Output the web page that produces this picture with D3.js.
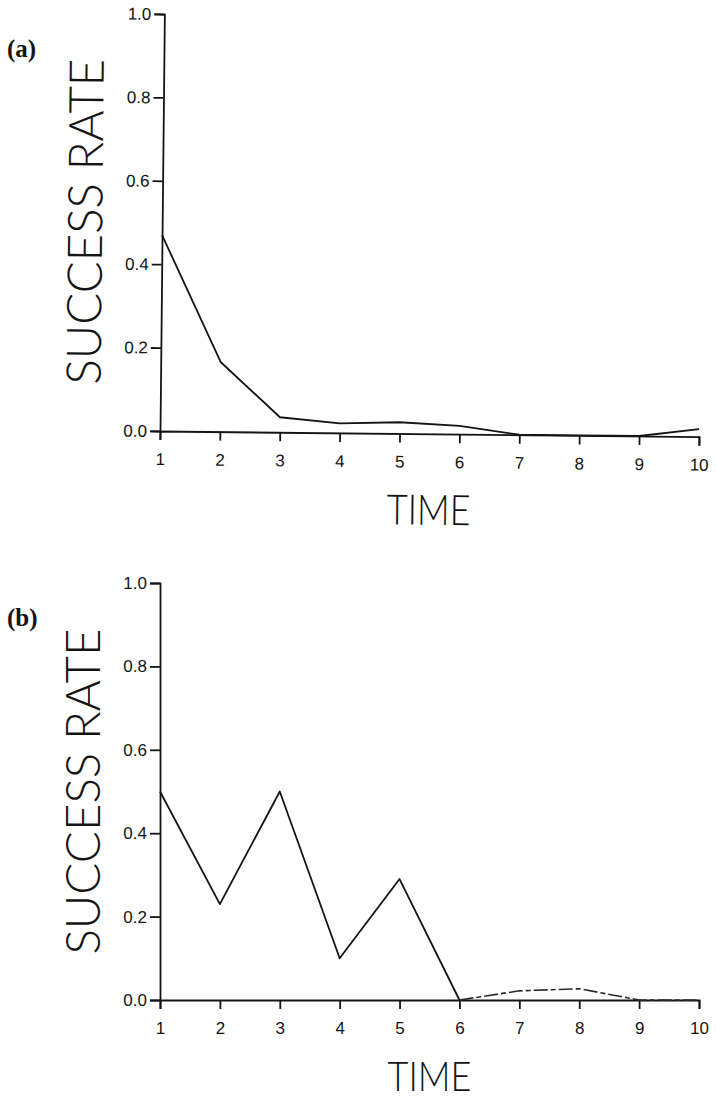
<!DOCTYPE html>
<html>
<head>
<meta charset="utf-8">
<script src="https://cdn.jsdelivr.net/npm/d3@7/dist/d3.min.js"></script>
<style>
  html, body { margin: 0; padding: 0; background: #fff; }
  svg { display: block; }
</style>
</head>
<body>
<svg id="chart" width="716" height="1099"></svg>
<script>
// Time steps and success rates for the two runs
const times = [1, 2, 3, 4, 5, 6, 7, 8, 9, 10];
const rateA = [0.47, 0.167, 0.036, 0.023, 0.027, 0.02, 0, 0, 0, 0.018];
const rateB = [0.50, 0.23, 0.50, 0.10, 0.29, 0, 0.022, 0.027, 0, 0];
// index from which run (b) is drawn dashed
const dashFromB = 5;
const yTicks = [0, 0.2, 0.4, 0.6, 0.8, 1.0];
const panelLabels = ["(a)", "(b)"];
const xTitle = "TIME";
const yTitle = "SUCCESS RATE";

const svg = d3.select("#chart");
const ink = "#141414";

function styleAxis(sel) {
  sel.selectAll(".domain, .tick line")
    .attr("stroke", ink)
    .attr("stroke-width", 1.8);
  sel.selectAll(".tick text")
    .attr("fill", ink)
    .style("font-family", "'Liberation Sans', 'DejaVu Sans', sans-serif")
    .style("font-size", "17px");
}

function drawPanel(opts) {
  const { top, bottom, left, right, values, dashFrom, label, tilt } = opts;
  const g = svg.append("g")
    .attr("transform", `rotate(${tilt}, ${left}, ${bottom})`);

  const x = d3.scaleLinear().domain([1, 10]).range([left, right]);
  const y = d3.scaleLinear().domain([0, 1]).range([bottom, top]);

  g.append("g")
    .attr("transform", `translate(0,${bottom})`)
    .call(d3.axisBottom(x).tickValues(times).tickFormat(d3.format("d"))
      .tickSize(9).tickSizeOuter(9).tickPadding(13))
    .call(styleAxis);

  g.append("g")
    .attr("transform", `translate(${left},0)`)
    .call(d3.axisLeft(y).tickValues(yTicks).tickFormat(d3.format(".1f"))
      .tickSize(10).tickSizeOuter(10).tickPadding(3))
    .call(styleAxis);

  const cut = dashFrom == null ? values.length : dashFrom + 1;
  const line = d3.line().x((d, i) => x(times[i])).y(d => y(d));

  g.append("path")
    .datum(values.slice(0, cut))
    .attr("fill", "none")
    .attr("stroke", ink)
    .attr("stroke-width", 1.8)
    .attr("stroke-linejoin", "round")
    .attr("d", line);

  if (dashFrom != null) {
    const lineTail = d3.line().x((d, i) => x(times[i + dashFrom])).y(d => y(d));
    g.append("path")
      .datum(values.slice(dashFrom))
      .attr("fill", "none")
      .attr("stroke", "#2a2a2a")
      .attr("stroke-width", 1.6)
      .attr("stroke-dasharray", "14,3,5,3")
      .attr("d", lineTail);
  }

  // axis titles
  const midY = (top + bottom) / 2;
  g.append("text")
    .attr("transform", `translate(${left - 60},${midY}) rotate(-90)`)
    .attr("text-anchor", "middle")
    .attr("font-family", "Lato, 'Open Sans', sans-serif")
    .attr("font-weight", 300)
    .attr("font-size", 48)
    .attr("textLength", 326)
    .attr("lengthAdjust", "spacingAndGlyphs")
    .attr("fill", ink)
    .text(yTitle);

  g.append("text")
    .attr("x", (left + right) / 2)
    .attr("y", bottom + 91)
    .attr("text-anchor", "middle")
    .attr("font-family", "Lato, 'Open Sans', sans-serif")
    .attr("font-weight", 300)
    .attr("font-size", 42)
    .attr("textLength", 84)
    .attr("lengthAdjust", "spacingAndGlyphs")
    .attr("fill", ink)
    .text(xTitle);

  svg.append("text")
    .attr("x", 7)
    .attr("y", top + 43)
    .attr("font-family", "'Liberation Serif', 'DejaVu Serif', serif")
    .attr("font-weight", "bold")
    .attr("font-size", 25)
    .attr("fill", ink)
    .text(label);
}

drawPanel({ top: 14, bottom: 431, left: 160, right: 699, values: rateA,
            dashFrom: null, label: panelLabels[0], tilt: 0.6 });
drawPanel({ top: 583, bottom: 1000, left: 160, right: 699, values: rateB,
            dashFrom: dashFromB, label: panelLabels[1], tilt: 0 });
</script>
</body>
</html>
